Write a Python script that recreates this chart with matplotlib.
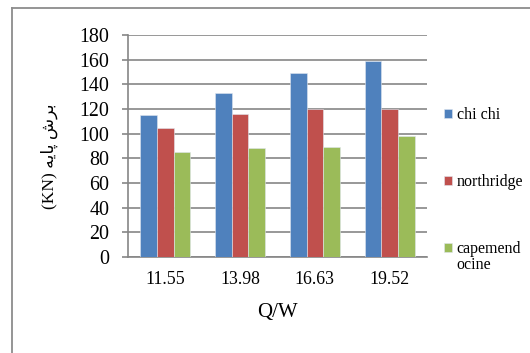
import matplotlib
matplotlib.use("Agg")
import matplotlib.pyplot as plt
import numpy as np
from matplotlib.lines import Line2D

plt.rcParams['font.family'] = ['Liberation Serif', 'DejaVu Sans']

categories = ["11.55", "13.98", "16.63", "19.52"]
series_names = ["chi chi", "northridge", "capemend"]
chi_chi = [115, 133, 149, 159]
northridge = [105, 116, 120, 120]
capemendocine = [85, 88, 89, 98]
colors = ["#4F81BD", "#C0504D", "#9BBB59"]

# Persian axis title, written in presentation forms, visual order
y_title = "(KN) \uFEEA\uFBFE\uFE8E\uFB58 \uFEB5\uFEAE\uFE91"

grid_gray = "#868686"

fig = plt.figure(figsize=(5.30, 3.53), dpi=100)
ax = fig.add_axes([128 / 530, 1 - 257 / 353, 299 / 530, 222 / 353])

x = np.arange(len(categories))
width = 0.222
for i, (vals, name, col) in enumerate(zip([chi_chi, northridge, capemendocine], series_names, colors)):
    ax.bar(x + (i - 1) * width, vals, width, color=col, label=name,
           edgecolor="#dfe6ef", linewidth=0.4, zorder=3)

ax.set_xlim(-0.5, len(categories) - 0.5)
ax.set_ylim(0, 180)
ax.set_yticks(np.arange(0, 181, 20))
ax.set_xticks(x)
ax.set_xticklabels(categories, fontsize=12.8)
ax.tick_params(axis="y", labelsize=14.4, length=4.5, width=1.2, color=grid_gray, pad=9)
ax.tick_params(axis="x", length=0, pad=10)
ax.grid(axis="y", color=grid_gray, linewidth=1.2, zorder=0)
for side in ["top", "right"]:
    ax.spines[side].set_visible(False)
for side in ["left", "bottom"]:
    ax.spines[side].set_color(grid_gray)
    ax.spines[side].set_linewidth(1.2)
ax.spines["left"].set_zorder(4)

ax.set_xlabel("Q/W", fontsize=15, labelpad=11)
fig.text(49 / 530, 1 - 156 / 353, y_title, rotation=90, ha="center", va="center",
         fontsize=12.5)

leg = ax.legend(loc="upper left", bbox_to_anchor=(444 / 530, 1 - 107 / 353),
                bbox_transform=fig.transFigure, frameon=False, fontsize=11.5,
                handlelength=0.5, handleheight=0.5, handletextpad=0.3,
                labelspacing=3.2, borderaxespad=0, borderpad=0)
# second line of the last series name, hung under its legend entry
ax.annotate("ocine", xy=(0, 0), xycoords=leg.get_texts()[2], xytext=(0, 0),
            textcoords="offset points", ha="left", va="top", fontsize=11.5,
            zorder=10)

# chart frame
fig.add_artist(Line2D([12 / 530, 12 / 530], [0, 1 - 8 / 353], color="#8c8c8c", linewidth=1.3))
fig.add_artist(Line2D([12 / 530, 1], [1 - 8 / 353, 1 - 8 / 353], color="#8c8c8c", linewidth=1.3))

fig.savefig("out.png", dpi=100)
